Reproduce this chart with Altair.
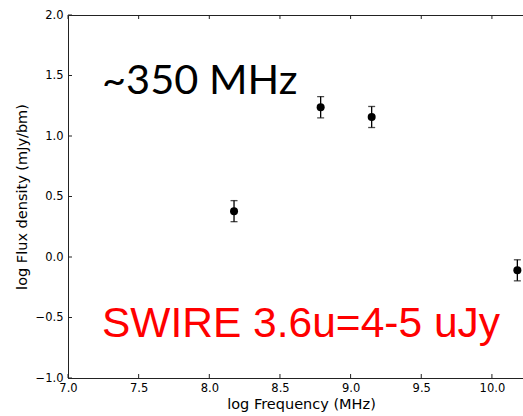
import altair as alt
import pandas as pd

# Measured spectrum: log frequency (MHz) vs log flux density (mJy/bm)
log_freq = [8.175, 8.788, 9.149, 10.18]
log_flux = [0.379, 1.238, 1.157, -0.110]
flux_err = [0.087, 0.088, 0.087, 0.087]

x_ticks = [7.0, 7.5, 8.0, 8.5, 9.0, 9.5, 10.0]
y_ticks = [-1.0, -0.5, 0.0, 0.5, 1.0, 1.5, 2.0]

freq_note = ["~350 MHz"]
swire_note = ["SWIRE 3.6u=4-5 uJy"]

W, H = 455, 363
X_DOMAIN = [7.0, 10.22]
Y_DOMAIN = [-1.0, 2.0]
INK = "#222222"

pts = pd.DataFrame({"f": log_freq, "s": log_flux, "e": flux_err})
pts["lo"] = pts["s"] - pts["e"]
pts["hi"] = pts["s"] + pts["e"]

xs = alt.Scale(domain=X_DOMAIN, nice=False, zero=False)
ys = alt.Scale(domain=Y_DOMAIN, nice=False, zero=False)

x_axis = alt.Axis(values=x_ticks, format=".1f", tickSize=0, labelPadding=4,
                  grid=False, domainColor=INK, labelFont="DejaVu Sans",
                  labelFontSize=11.5, labelColor="black", title="log Frequency (MHz)",
                  titleFont="DejaVu Sans", titleFontSize=14.5, titleFontWeight="normal",
                  titleColor="black", titlePadding=4, titleX=233, labelFlush=False)
y_axis = alt.Axis(values=y_ticks, format=".1f", tickSize=0, labelPadding=5,
                  grid=False, domainColor=INK, labelFont="DejaVu Sans",
                  labelFontSize=11.5, labelColor="black", title="log Flux density (mJy/bm)",
                  titleFont="DejaVu Sans", titleFontSize=14.5, titleFontWeight="normal",
                  titleColor="black", titlePadding=6, labelFlush=False)

base = alt.Chart(pts)

errbars = base.mark_rule(color="black", strokeWidth=1.3).encode(
    x=alt.X("f:Q", scale=xs, axis=x_axis),
    y=alt.Y("lo:Q", scale=ys, axis=y_axis),
    y2="hi:Q",
)
cap_lo = base.mark_tick(color="black", thickness=1.3, size=7, orient="horizontal").encode(
    x=alt.X("f:Q", scale=xs), y=alt.Y("lo:Q", scale=ys))
cap_hi = base.mark_tick(color="black", thickness=1.3, size=7, orient="horizontal").encode(
    x=alt.X("f:Q", scale=xs), y=alt.Y("hi:Q", scale=ys))
dots = base.mark_circle(color="black", opacity=1, size=64).encode(
    x=alt.X("f:Q", scale=xs), y=alt.Y("s:Q", scale=ys))

# inward tick marks on bottom, top and left spines
xt = alt.Chart(pd.DataFrame({"t": x_ticks}))
yt = alt.Chart(pd.DataFrame({"t": y_ticks}))
bottom_ticks = xt.mark_rule(color=INK, strokeWidth=1).encode(
    x=alt.X("t:Q", scale=xs), y=alt.value(H), y2=alt.value(H - 4))
top_ticks = xt.mark_rule(color=INK, strokeWidth=1).encode(
    x=alt.X("t:Q", scale=xs), y=alt.value(0), y2=alt.value(4))
left_ticks = yt.mark_rule(color=INK, strokeWidth=1).encode(
    y=alt.Y("t:Q", scale=ys), x=alt.value(0), x2=alt.value(4))

note1 = alt.Chart(pd.DataFrame({"txt": freq_note})).mark_text(
    font="Lato", fontSize=41.5, color="black", align="left", baseline="alphabetic"
).encode(text="txt:N", x=alt.value(34), y=alt.value(79))
note2 = alt.Chart(pd.DataFrame({"txt": swire_note})).mark_text(
    font="Liberation Sans", fontSize=42.5, color="#ff0000", align="left", baseline="alphabetic"
).encode(text="txt:N", x=alt.value(34), y=alt.value(322))

chart = alt.layer(
    errbars, cap_lo, cap_hi, dots, bottom_ticks, top_ticks, left_ticks, note1, note2
).properties(
    width=W, height=H,
    autosize=alt.AutoSizeParams(type="none"),
    padding={"left": 68, "top": 15, "right": 0, "bottom": 38},
    background="white",
).configure_view(stroke=INK, strokeWidth=1)

chart.save("out.html", embed_options={"renderer": "svg", "actions": False})
